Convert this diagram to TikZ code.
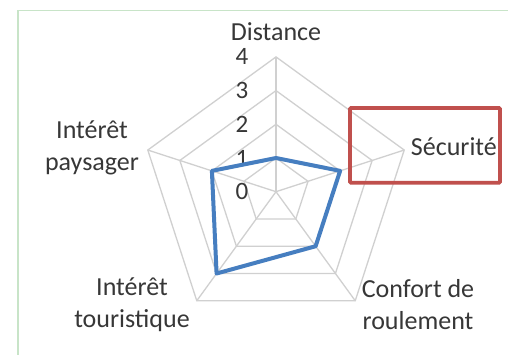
\documentclass[tikz,border=0pt]{standalone}
\usepackage{fontspec}
\setmainfont{Carlito}
\usetikzlibrary{calc}
\definecolor{gridgray}{RGB}{208,208,208}
\definecolor{serieblue}{RGB}{70,126,192}
\definecolor{boxred}{RGB}{192,80,77}
\definecolor{framegreen}{RGB}{200,228,200}
\definecolor{txtgray}{RGB}{55,55,55}
\begin{document}
\begin{tikzpicture}[x=1pt,y=1pt,
  gridline/.style={draw=gridgray,line width=1.3pt},
  serie/.style={draw=serieblue,line width=4pt,line join=round},
  lbl/.style={text=txtgray,font=\fontsize{26}{32}\selectfont,inner sep=0pt,align=center},
  tick/.style={text=txtgray,font=\fontsize{25}{30}\selectfont,inner sep=0pt}]
\useasboundingbox (0,0) rectangle (508,354);
\fill[white] (0,0) rectangle (508,354);
\draw[framegreen,line width=1.2pt] (18,-2) -- (18,343.3) -- (510,343.3);
\coordinate (C) at (276,162.3);
\def\lev{33.7}
% grid
\foreach \k in {1,2,3,4}{
  \draw[gridline] ($(C)+(90:\k*\lev)$) -- ($(C)+(18:\k*\lev)$) -- ($(C)+(-54:\k*\lev)$) -- ($(C)+(-126:\k*\lev)$) -- ($(C)+(162:\k*\lev)$) -- cycle;
}
\foreach \a in {90,18,-54,-126,162}{
  \draw[gridline] (C) -- ($(C)+(\a:4*\lev)$);
}
% ticks
\foreach \k in {0,1,2,3,4}{
  \node[tick] (t\k) at (242,162.3+\k*\lev) {\k};
}
% data
\coordinate (d1) at ($(C)+(90:1*\lev)$);
\coordinate (d2) at ($(C)+(18:2*\lev)$);
\coordinate (d3) at ($(C)+(-54:2*\lev)$);
\coordinate (d4) at ($(C)+(-126:3*\lev)$);
\coordinate (d5) at ($(C)+(162:2*\lev)$);
\draw[serie] (d1) -- (d2) -- (d3) -- (d4) -- (d5) -- cycle;
% labels
\node[lbl] (dist) at (276,322) {Distance};
\node[lbl,anchor=west] (secu) at (410.7,207.3) {Sécurité};
\node[lbl] (pays) at (92,206.5) {Intérêt\\paysager};
\node[lbl] (tour) at (132,49) {Intérêt\\touristique};
\node[lbl] (conf) at (418,49) {Confort de\\roulement};
% red box
\draw[boxred,line width=3.8pt,rounded corners=1pt] (350,246) rectangle (500,171.3);
\end{tikzpicture}
\end{document}
